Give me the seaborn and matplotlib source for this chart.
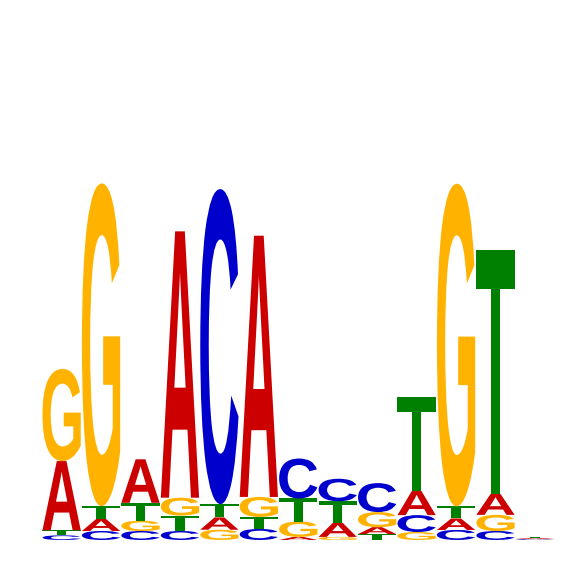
import numpy as np
import pandas as pd
import seaborn as sns
import matplotlib
matplotlib.use('Agg')
import matplotlib.pyplot as plt
from matplotlib.textpath import TextPath
from matplotlib.patches import PathPatch
from matplotlib.font_manager import FontProperties
from matplotlib.transforms import Affine2D

# information content (bits) per base at each of the 13 positions
positions = list(range(1, 14))
heights_A = [0.27, 0.047, 0.17, 1.04, 0.048, 1.02, 0.012, 0.055, 0.027, 0.094, 0.045, 0.082, 0.004]
heights_C = [0.018, 0.035, 0.035, 0.035, 1.23, 0.043, 0.156, 0.088, 0.113, 0.066, 0.039, 0.035, 0.003]
heights_G = [0.36, 1.26, 0.04, 0.07, 0.04, 0.078, 0.06, 0.012, 0.059, 0.031, 1.26, 0.063, 0.001]
heights_T = [0.02, 0.05, 0.07, 0.06, 0.052, 0.047, 0.09, 0.084, 0.023, 0.367, 0.047, 0.953, 0.005]

base_colors = {'A': '#CC0000', 'C': '#0000CC', 'G': '#FFB300', 'T': '#008000'}

df = pd.DataFrame({'pos': positions, 'A': heights_A, 'C': heights_C,
                   'G': heights_G, 'T': heights_T})

sns.set_style('white')
fp = FontProperties(family='Liberation Sans', weight='bold')


def draw_letter(ax, ch, x, y, w, h, color):
    tp = TextPath((0, 0), ch, size=1, prop=fp)
    bb = tp.get_extents()
    t = (Affine2D().translate(-bb.x0, -bb.y0)
         .scale(w / bb.width, h / bb.height)
         .translate(x - w / 2, y))
    ax.add_patch(PathPatch(t.transform_path(tp), fc=color, ec='none', lw=0))


fig = plt.figure(figsize=(5.66, 5.66), dpi=100)
ax = fig.add_axes([0.074, 0.046, 0.906, 0.905])

for _, row in df.iterrows():
    # smallest letter at the bottom, tallest on top
    stack = sorted(['A', 'C', 'G', 'T'], key=lambda b: row[b])
    y0 = 0.0
    for b in stack:
        h = row[b]
        if h > 0:
            draw_letter(ax, b, row['pos'], y0, 0.97, h, base_colors[b])
        y0 += h

ax.set_xlim(0.5, 13.5)
ax.set_ylim(0, 2)
ax.set_axis_off()
sns.despine(left=True, bottom=True)

plt.savefig('out.png', dpi=100)
